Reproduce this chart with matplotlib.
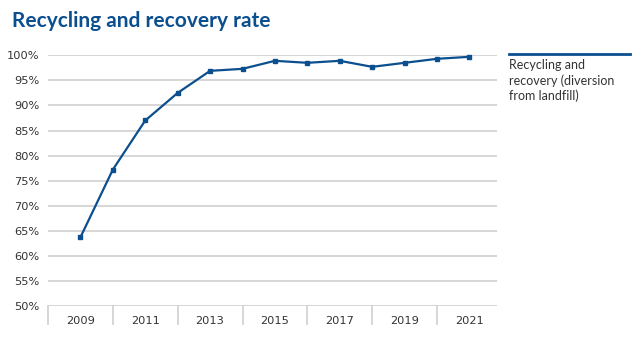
import matplotlib
matplotlib.use("Agg")
import matplotlib.pyplot as plt

years = [2009, 2010, 2011, 2012, 2013, 2014, 2015, 2016, 2017, 2018, 2019, 2020, 2021]
rate = [63.7, 77.2, 87.0, 92.5, 96.9, 97.3, 98.9, 98.5, 98.9, 97.7, 98.5, 99.3, 99.7]
x_labels = ["2009", "2011", "2013", "2015", "2017", "2019", "2021"]
y_ticks = [50, 55, 60, 65, 70, 75, 80, 85, 90, 95, 100]
series_name = "Recycling and\nrecovery (diversion\nfrom landfill)"
title = "Recycling and recovery rate"

blue = "#0b4f8f"
grid = "#d3d3d3"
txt = "#333333"

W, H = 642, 343
fig = plt.figure(figsize=(W / 100, H / 100), dpi=100)
ax = fig.add_axes([48 / W, 1 - 306 / H, (497 - 48) / W, (306 - 55.3) / H])

ax.plot(years, rate, color=blue, lw=1.6, marker="s", ms=3.2, clip_on=False, zorder=3)
ax.set_xlim(2008, 2021.85)
ax.set_ylim(50, 100)
ax.set_yticks(y_ticks)
ax.set_yticklabels([f"{v}%" for v in y_ticks], fontsize=8.2, color=txt,
                   family="DejaVu Sans")
for v in y_ticks:
    ax.axhline(v, color=grid, lw=1.3, zorder=1)
for s in ax.spines.values():
    s.set_visible(False)
ax.tick_params(axis="y", length=0, pad=6)

lbl_years = [int(s) for s in x_labels]
ax.set_xticks(lbl_years)
ax.set_xticklabels(x_labels, fontsize=8.2, color=txt, family="DejaVu Sans")
ax.tick_params(axis="x", length=0, pad=7)
# category separators below axis
for xb in range(2008, 2021, 2):
    ax.plot([xb, xb], [50, 46.4], color=grid, lw=1.3, clip_on=False, zorder=1)

fig.text(12 / W, 1 - 21 / H, title, fontsize=15, fontweight="bold", color=blue,
         va="center", ha="left", family=["Lato", "DejaVu Sans"])

# legend
fig.add_artist(plt.Line2D([509 / W, 630 / W], [1 - 54 / H, 1 - 54 / H],
                          color=blue, lw=2, transform=fig.transFigure))
fig.text(509 / W, 1 - 59 / H, series_name, fontsize=9, color=txt, va="top",
         ha="left", linespacing=1.3, family=["Lato", "DejaVu Sans"])

fig.savefig("out.png", dpi=100)
